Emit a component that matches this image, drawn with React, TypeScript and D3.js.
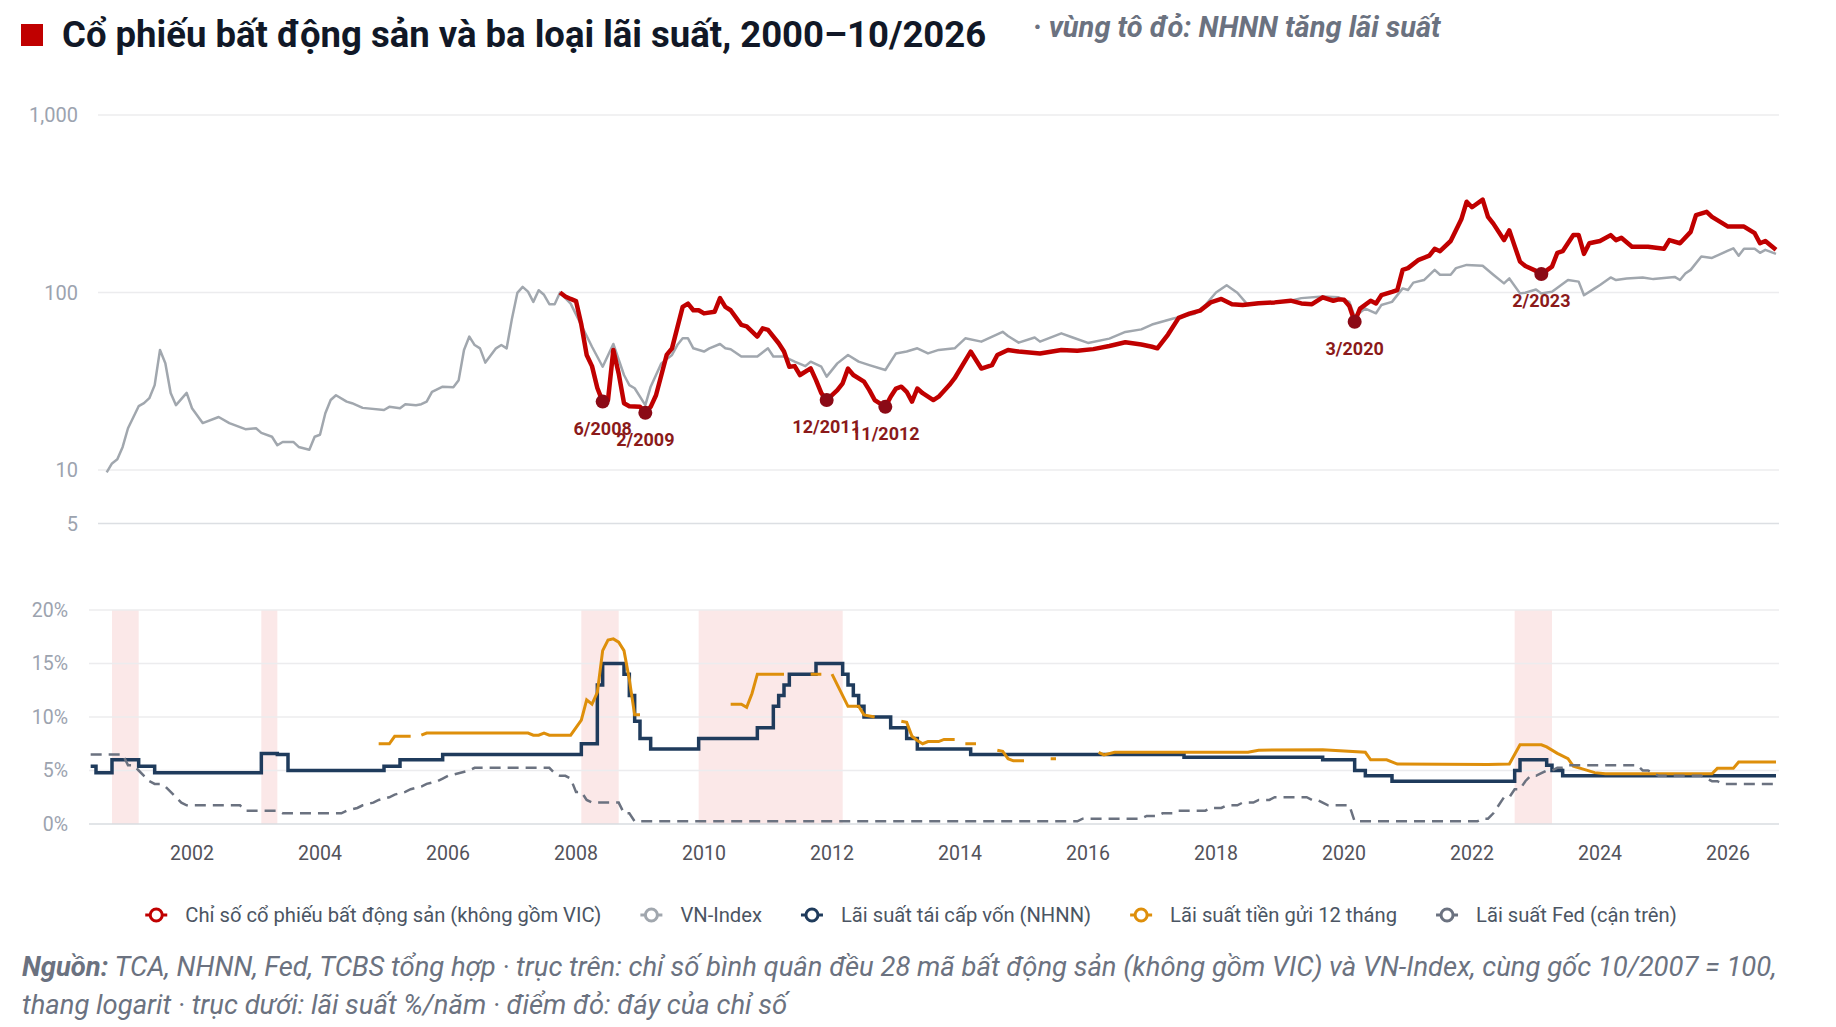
import React, { useRef, useEffect } from 'react'
import * as d3 from 'd3'

type Pt = [string, number | null]

// trục
const yearTicks = [2002, 2004, 2006, 2008, 2010, 2012, 2014, 2016, 2018, 2020, 2022, 2024, 2026]
const topTicks = [5, 10, 100, 1000]
const bottomTicks = [0, 5, 10, 15, 20]

// Chỉ số cổ phiếu BĐS (không gồm VIC), gốc 10/2007 = 100
const reStocks: Pt[] = [
	['2007-10', 100], ['2007-11', 95], ['2007-12', 92], ['2008-01', 89.5], ['2008-02', 66], ['2008-03', 44.5],
	['2008-04', 38.5], ['2008-05', 29], ['2008-06', 24.3], ['2008-07', 24.8], ['2008-08', 47.5], ['2008-09', 35],
	['2008-10', 23.8], ['2008-11', 22.9], ['2009-01', 22.7], ['2009-02', 21], ['2009-03', 22.7], ['2009-04', 26.4],
	['2009-06', 44.5], ['2009-07', 48.5], ['2009-09', 83], ['2009-10', 86.6], ['2009-11', 79.5], ['2009-12', 79.5],
	['2010-01', 76.3], ['2010-03', 78], ['2010-04', 93], ['2010-05', 83], ['2010-06', 79.5], ['2010-08', 65.7],
	['2010-09', 64.5], ['2010-11', 56.5], ['2010-12', 62.8], ['2011-01', 61.6], ['2011-03', 51.8], ['2011-04', 46.5],
	['2011-05', 38.2], ['2011-06', 38.5], ['2011-07', 34.3], ['2011-09', 37.4], ['2011-10', 32.1], ['2011-11', 27.1],
	['2011-12', 24.8], ['2012-02', 28.2], ['2012-03', 30.8], ['2012-04', 37.3], ['2012-05', 34.3], ['2012-07', 31.5],
	['2012-08', 28.2], ['2012-09', 24.8], ['2012-11', 22.7], ['2012-12', 25.9], ['2013-01', 28.8], ['2013-02', 29.5],
	['2013-03', 27.6], ['2013-04', 24.3], ['2013-05', 28.8], ['2013-06', 27.1], ['2013-08', 24.8], ['2013-09', 25.9],
	['2013-11', 30.1], ['2013-12', 32.9], ['2014-03', 46.5], ['2014-05', 37.3], ['2014-07', 39], ['2014-08', 44.5],
	['2014-10', 47.5], ['2014-12', 46.5], ['2015-04', 45.4], ['2015-08', 47.5], ['2015-11', 47], ['2016-02', 48],
	['2016-05', 50], ['2016-08', 52.5], ['2016-11', 51], ['2017-01', 49.5], ['2017-02', 48.5], ['2017-04', 58],
	['2017-06', 72], ['2017-08', 76], ['2017-10', 79], ['2017-12', 88], ['2018-02', 92], ['2018-04', 86],
	['2018-06', 85], ['2018-09', 87], ['2018-12', 88], ['2019-03', 90], ['2019-05', 86.8], ['2019-07', 86],
	['2019-09', 94], ['2019-11', 89.9], ['2019-12', 91.5], ['2020-01', 91], ['2020-02', 84], ['2020-03', 68.5],
	['2020-04', 81.2], ['2020-06', 89.9], ['2020-07', 86.8], ['2020-08', 96.6], ['2020-10', 100.9], ['2020-11', 103.3],
	['2020-12', 134.2], ['2021-01', 137.2], ['2021-03', 152.9], ['2021-05', 161.2], ['2021-06', 176.3], ['2021-07', 170.9],
	['2021-09', 195.1], ['2021-11', 258.5], ['2021-12', 324.7], ['2022-01', 302.4], ['2022-03', 333.5], ['2022-04', 267],
	['2022-05', 244.5], ['2022-07', 197.4], ['2022-08', 224], ['2022-09', 182.6], ['2022-10', 149.3], ['2022-11', 141],
	['2023-01', 132.5], ['2023-02', 127], ['2023-04', 140], ['2023-05', 167.3], ['2023-06', 170.9], ['2023-08', 210.6],
	['2023-09', 210.6], ['2023-10', 165.2], ['2023-11', 189.5], ['2024-01', 195.1], ['2024-03', 210.6], ['2024-04', 197.4],
	['2024-05', 203.3], ['2024-07', 181], ['2024-10', 181], ['2025-01', 176.3], ['2025-02', 197.4], ['2025-04', 189.5],
	['2025-06', 219.5], ['2025-07', 272.9], ['2025-09', 284.8], ['2025-10', 267], ['2026-01', 235.3], ['2026-04', 235.3],
	['2026-06', 215.9], ['2026-07', 189.5], ['2026-08', 195.1], ['2026-10', 174],
]

// VN-Index, cùng gốc 10/2007 = 100
const vnIndex: Pt[] = [
	['2000-09', 9.7], ['2000-10', 10.9], ['2000-11', 11.5], ['2000-12', 13.5], ['2001-01', 17.2], ['2001-03', 22.9],
	['2001-04', 23.8], ['2001-05', 25.4], ['2001-06', 30.1], ['2001-07', 47.5], ['2001-08', 40], ['2001-09', 27.2],
	['2001-10', 23.2], ['2001-12', 27.2], ['2002-01', 22.3], ['2002-03', 18.4], ['2002-06', 19.9], ['2002-08', 18.4],
	['2002-11', 17], ['2003-01', 17.2], ['2003-02', 16.2], ['2003-04', 15.4], ['2003-05', 13.8], ['2003-06', 14.4],
	['2003-08', 14.4], ['2003-09', 13.5], ['2003-11', 13], ['2003-12', 15.4], ['2004-01', 15.8], ['2004-02', 20.9],
	['2004-03', 24.8], ['2004-04', 26.4], ['2004-06', 24.3], ['2004-07', 23.8], ['2004-09', 22.4], ['2005-01', 21.8],
	['2005-02', 22.7], ['2005-04', 22.3], ['2005-05', 23.5], ['2005-07', 23.2], ['2005-08', 23.5], ['2005-09', 24.3],
	['2005-10', 27.6], ['2005-12', 29.5], ['2006-02', 29.3], ['2006-03', 32.1], ['2006-04', 47.5], ['2006-05', 56.5],
	['2006-06', 50.6], ['2006-07', 48.5], ['2006-08', 40.3], ['2006-10', 48.5], ['2006-11', 50.6], ['2006-12', 48.5],
	['2007-01', 71.5], ['2007-02', 99.5], ['2007-03', 107.6], ['2007-04', 101.2], ['2007-05', 88.6], ['2007-06', 103],
	['2007-07', 97.1], ['2007-08', 86], ['2007-09', 86], ['2007-10', 100], ['2007-12', 86.6], ['2008-04', 49.5],
	['2008-06', 38.2], ['2008-08', 51.3], ['2008-10', 34.3], ['2008-11', 30.1], ['2008-12', 28.9], ['2009-02', 23.2],
	['2009-03', 29.5], ['2009-05', 39.9], ['2009-07', 44.5], ['2009-08', 50.6], ['2009-09', 55.2], ['2009-10', 55.2],
	['2009-11', 48.5], ['2010-01', 46.5], ['2010-02', 48.5], ['2010-04', 51.3], ['2010-05', 48.5], ['2010-06', 47.9],
	['2010-08', 43.6], ['2010-11', 43.6], ['2011-01', 48.5], ['2011-02', 43.6], ['2011-04', 43.6], ['2011-06', 40.8],
	['2011-08', 38.5], ['2011-09', 40.8], ['2011-11', 38.2], ['2011-12', 33.6], ['2012-02', 39.9], ['2012-04', 44.5],
	['2012-06', 40.8], ['2012-08', 39], ['2012-11', 36.6], ['2013-01', 45.4], ['2013-03', 46.5], ['2013-05', 48.5],
	['2013-07', 45.4], ['2013-09', 47.5], ['2013-12', 48.5], ['2014-02', 55.2], ['2014-05', 52.9], ['2014-09', 60.1],
	['2014-10', 56.9], ['2014-12', 52.2], ['2015-03', 55.8], ['2015-04', 52.9], ['2015-08', 58.9], ['2015-10', 56],
	['2016-01', 52], ['2016-05', 55], ['2016-08', 60], ['2016-11', 62], ['2017-01', 66], ['2017-05', 71.4],
	['2017-09', 75.8], ['2017-11', 85], ['2018-01', 100], ['2018-03', 110], ['2018-05', 99.7], ['2018-07', 85],
	['2018-09', 88], ['2018-12', 88], ['2019-03', 90], ['2019-05', 93], ['2019-09', 94.9], ['2019-12', 94],
	['2020-02', 88.6], ['2020-03', 73.2], ['2020-05', 81.2], ['2020-07', 76.4], ['2020-08', 85], ['2020-10', 88.6],
	['2020-12', 105.5], ['2021-01', 103.3], ['2021-02', 113.7], ['2021-04', 117.6], ['2021-06', 134.2], ['2021-07', 125.9],
	['2021-09', 125.9], ['2021-10', 137.2], ['2021-12', 143.1], ['2022-03', 141.4], ['2022-05', 125.9], ['2022-07', 112.6],
	['2022-08', 120.1], ['2022-10', 98.9], ['2022-11', 99.8], ['2023-01', 104.1], ['2023-02', 98.9], ['2023-04', 101],
	['2023-07', 117.6], ['2023-09', 115.2], ['2023-10', 96.6], ['2023-12', 105.5], ['2024-01', 110.2], ['2024-03', 121.6],
	['2024-04', 117.6], ['2024-06', 120.1], ['2024-09', 121.6], ['2024-11', 119], ['2025-03', 122.4], ['2025-04', 117.6],
	['2025-05', 127.9], ['2025-06', 134.2], ['2025-08', 159.6], ['2025-10', 156.6], ['2026-01', 172.3], ['2026-02', 177.5],
	['2026-03', 161.2], ['2026-04', 176.3], ['2026-06', 176.3], ['2026-07', 167.3], ['2026-08', 174], ['2026-10', 165.2],
]

// Lãi suất tái cấp vốn NHNN (%/năm), các mốc thay đổi
const refinanceRate: Pt[] = [
	['2000-06', 5.4], ['2000-07', 4.8], ['2000-10', 6], ['2001-03', 5.4], ['2001-06', 4.8], ['2003-02', 6.6],
	['2003-05', 6.5], ['2003-07', 5], ['2005-01', 5.4], ['2005-04', 6], ['2005-12', 6.5], ['2008-02', 7.5],
	['2008-05', 13], ['2008-06', 15], ['2008-10', 14], ['2008-11', 12], ['2008-12', 9.6], ['2009-01', 8],
	['2009-03', 7], ['2009-12', 8], ['2010-11', 9], ['2011-02', 11], ['2011-03', 12], ['2011-04', 13],
	['2011-05', 14], ['2011-10', 15], ['2012-03', 14], ['2012-04', 13], ['2012-05', 12], ['2012-06', 11],
	['2012-07', 10], ['2012-12', 9], ['2013-03', 8], ['2013-05', 7], ['2014-03', 6.5], ['2017-07', 6.25],
	['2019-09', 6], ['2020-03', 5], ['2020-05', 4.5], ['2020-10', 4], ['2022-09', 5], ['2022-10', 6],
	['2023-03', 5.5], ['2023-04', 5], ['2023-06', 4.5], ['2026-10', 4.5],
]

// Lãi suất tiền gửi 12 tháng (%/năm), null = thiếu số liệu
const deposit12m: Pt[] = [
	['2004-12', 7.5], ['2005-02', 7.5], ['2005-03', 8.2], ['2005-06', 8.2], ['2005-07', null],
	['2005-08', 8.3], ['2005-09', 8.5], ['2007-04', 8.5], ['2007-05', 8.3], ['2007-06', 8.3], ['2007-07', 8.5],
	['2007-08', 8.3], ['2007-12', 8.3], ['2008-02', 9.7], ['2008-03', 11.6], ['2008-04', 11.2], ['2008-05', 12.3],
	['2008-06', 16.2], ['2008-07', 17.2], ['2008-08', 17.3], ['2008-09', 17], ['2008-10', 16.2], ['2008-11', 13.5],
	['2008-12', 10.2], ['2009-01', 10.2], ['2009-02', null],
	['2010-06', 11.2], ['2010-08', 11.2], ['2010-09', 10.9], ['2010-10', 12.2], ['2010-11', 14], ['2011-04', 14], ['2011-05', null],
	['2011-09', 14], ['2011-11', 14], ['2011-12', null],
	['2012-01', 14], ['2012-02', 13], ['2012-04', 11], ['2012-06', 11], ['2012-07', 10.2], ['2012-09', 10], ['2012-10', null],
	['2013-02', 9.6], ['2013-03', 9.5], ['2013-04', 8.2], ['2013-05', 7.8], ['2013-06', 7.5], ['2013-07', 7.7],
	['2013-09', 7.7], ['2013-10', 7.9], ['2013-12', 7.9], ['2014-01', null],
	['2014-02', 7.5], ['2014-04', 7.5], ['2014-05', null],
	['2014-08', 6.9], ['2014-09', 6.8], ['2014-10', 6.1], ['2014-11', 5.9], ['2015-01', 5.9], ['2015-02', null],
	['2015-06', 6.1], ['2015-07', 6.1], ['2015-08', null],
	['2016-03', 6.7], ['2016-04', 6.45], ['2016-06', 6.7], ['2018-07', 6.7], ['2018-09', 6.9], ['2019-09', 6.95],
	['2020-05', 6.7], ['2020-06', 6], ['2020-09', 6], ['2020-11', 5.6], ['2022-04', 5.55], ['2022-08', 5.6],
	['2022-10', 7.4], ['2023-02', 7.4], ['2023-03', 7.2], ['2023-05', 6.6], ['2023-07', 6.1], ['2023-08', 5.4],
	['2023-10', 5.1], ['2023-12', 4.8], ['2024-02', 4.7], ['2025-10', 4.7], ['2025-11', 5.2], ['2026-02', 5.2],
	['2026-03', 5.8], ['2026-10', 5.8],
]

// Lãi suất Fed (cận trên)
const fedUpper: Pt[] = [
	['2000-06', 6.5], ['2000-12', 6.5], ['2001-01', 5.5], ['2001-02', 5.5], ['2001-03', 5], ['2001-04', 4.5],
	['2001-05', 4], ['2001-06', 3.75], ['2001-07', 3.75], ['2001-08', 3.5], ['2001-09', 3], ['2001-10', 2.5],
	['2001-11', 2], ['2001-12', 1.75], ['2002-10', 1.75], ['2002-11', 1.25], ['2003-05', 1.25], ['2003-06', 1],
	['2004-05', 1], ['2004-06', 1.25], ['2004-08', 1.5], ['2004-09', 1.75], ['2004-11', 2], ['2004-12', 2.25],
	['2005-02', 2.5], ['2005-03', 2.75], ['2005-05', 3], ['2005-06', 3.25], ['2005-08', 3.5], ['2005-09', 3.75],
	['2005-11', 4], ['2005-12', 4.25], ['2006-01', 4.5], ['2006-03', 4.75], ['2006-05', 5], ['2006-06', 5.25],
	['2007-08', 5.25], ['2007-09', 4.75], ['2007-10', 4.5], ['2007-11', 4.5], ['2007-12', 4.25], ['2008-01', 3],
	['2008-02', 3], ['2008-03', 2.25], ['2008-04', 2], ['2008-09', 2], ['2008-10', 1], ['2008-11', 1],
	['2008-12', 0.25], ['2015-11', 0.25], ['2015-12', 0.5], ['2016-11', 0.5], ['2016-12', 0.75], ['2017-02', 0.75],
	['2017-03', 1], ['2017-05', 1], ['2017-06', 1.25], ['2017-11', 1.25], ['2017-12', 1.5], ['2018-02', 1.5],
	['2018-03', 1.75], ['2018-05', 1.75], ['2018-06', 2], ['2018-08', 2], ['2018-09', 2.25], ['2018-11', 2.25],
	['2018-12', 2.5], ['2019-06', 2.5], ['2019-07', 2.25], ['2019-08', 2.25], ['2019-09', 2], ['2019-10', 1.75],
	['2020-02', 1.75], ['2020-03', 0.25], ['2022-02', 0.25], ['2022-03', 0.5], ['2022-04', 0.5], ['2022-05', 1],
	['2022-06', 1.75], ['2022-07', 2.5], ['2022-08', 2.5], ['2022-09', 3.25], ['2022-10', 3.25], ['2022-11', 4],
	['2022-12', 4.5], ['2023-01', 4.5], ['2023-02', 4.75], ['2023-03', 5], ['2023-04', 5], ['2023-05', 5.25],
	['2023-06', 5.25], ['2023-07', 5.5], ['2024-08', 5.5], ['2024-09', 5], ['2024-10', 5], ['2024-11', 4.75],
	['2024-12', 4.5], ['2025-08', 4.5], ['2025-09', 4.25], ['2025-10', 4], ['2025-11', 4], ['2025-12', 3.75],
	['2026-10', 3.75],
]

// các giai đoạn NHNN tăng lãi suất
const hikeBands: [string, string][] = [
	['2000-10', '2001-03'], ['2003-02', '2003-05'], ['2008-02', '2008-09'], ['2009-12', '2012-03'], ['2022-09', '2023-04'],
]

// đáy của chỉ số
const troughs: [string, string][] = [
	['2008-06', '6/2008'], ['2009-02', '2/2009'], ['2011-12', '12/2011'],
	['2012-11', '11/2012'], ['2020-03', '3/2020'], ['2023-02', '2/2023'],
]

const legendItems: [string, string][] = [
	['Chỉ số cổ phiếu bất động sản (không gồm VIC)', '#c00000'],
	['VN-Index', '#a1a7ae'],
	['Lãi suất tái cấp vốn (NHNN)', '#1f3b5c'],
	['Lãi suất tiền gửi 12 tháng', '#de8f0b'],
	['Lãi suất Fed (cận trên)', '#6b7280'],
]

const toYear = (s: string) => {
	const [y, m] = s.split('-').map(Number)
	return y + (m - 1) / 12
}

const FONT = 'Roboto, "Noto Sans", sans-serif'

const App = () => {
	const svgRef = useRef<SVGSVGElement>(null)

	useEffect(() => {
		const svg = d3.select(svgRef.current)
		svg.selectAll('*').remove()

		const width = 1836
		const height = 1027
		svg.attr('width', width).attr('height', height).attr('font-family', FONT)

		const x = d3.scaleLinear().domain([2000, 2026]).range([64, 1728])
		const yTop = d3.scaleLog().domain([5, 1000]).range([523.5, 115])
		const yBot = d3.scaleLinear().domain([0, 20]).range([824, 610])
		const plotRight = 1779

		// tiêu đề
		svg.append('rect').attr('x', 21).attr('y', 24).attr('width', 22).attr('height', 22).attr('fill', '#c00000')
		svg.append('text').attr('x', 62).attr('y', 47).attr('font-size', 36.5).attr('font-weight', 700)
			.attr('fill', '#111827').text('Cổ phiếu bất động sản và ba loại lãi suất, 2000–10/2026')
		svg.append('text').attr('x', 1033).attr('y', 37).attr('font-size', 29).attr('font-weight', 700)
			.attr('font-style', 'italic').attr('fill', '#6b7280').text('· vùng tô đỏ: NHNN tăng lãi suất')

		// lưới trên
		const gTop = svg.append('g')
		gTop.selectAll('line').data(topTicks).enter().append('line')
			.attr('x1', 98).attr('x2', plotRight)
			.attr('y1', d => yTop(d)).attr('y2', d => yTop(d))
			.attr('stroke', d => (d === 5 ? '#dcdfe3' : '#ececee')).attr('stroke-width', 1.5)
		gTop.selectAll('text').data(topTicks).enter().append('text')
			.attr('x', 78).attr('y', d => yTop(d)).attr('dy', '0.35em').attr('text-anchor', 'end')
			.attr('font-size', 20).attr('fill', '#9ca3af').text(d => d3.format(',')(d))

		// vùng tô đỏ
		svg.append('g').selectAll('rect').data(hikeBands).enter().append('rect')
			.attr('x', d => x(toYear(d[0]))).attr('width', d => x(toYear(d[1])) - x(toYear(d[0])))
			.attr('y', yBot(20)).attr('height', yBot(0) - yBot(20)).attr('fill', '#fbe8e8')

		// lưới dưới
		const gBot = svg.append('g')
		gBot.selectAll('line').data(bottomTicks).enter().append('line')
			.attr('x1', 89).attr('x2', plotRight)
			.attr('y1', d => yBot(d)).attr('y2', d => yBot(d))
			.attr('stroke', d => (d === 0 ? '#d9dce1' : '#ececee')).attr('stroke-width', 1.5)
		gBot.selectAll('text').data(bottomTicks).enter().append('text')
			.attr('x', 68).attr('y', d => yBot(d)).attr('dy', '0.35em').attr('text-anchor', 'end')
			.attr('font-size', 19.5).attr('fill', '#9ca3af').text(d => `${d}%`)

		// trục năm
		svg.append('g').selectAll('text').data(yearTicks).enter().append('text')
			.attr('x', d => x(d)).attr('y', 860).attr('text-anchor', 'middle')
			.attr('font-size', 19.5).attr('fill', '#52525b').text(d => d)

		// đường lãi suất
		const rateLine = d3.line<Pt>()
			.defined(d => d[1] != null)
			.x(d => x(toYear(d[0])))
			.y(d => yBot(d[1] as number))

		svg.append('path').datum(refinanceRate)
			.attr('d', rateLine.curve(d3.curveStepAfter))
			.attr('fill', 'none').attr('stroke', '#1f3b5c').attr('stroke-width', 3.5)
		svg.append('path').datum(deposit12m)
			.attr('d', rateLine.curve(d3.curveLinear))
			.attr('fill', 'none').attr('stroke', '#de8f0b').attr('stroke-width', 3)
		svg.append('path').datum(fedUpper)
			.attr('d', rateLine.curve(d3.curveLinear))
			.attr('fill', 'none').attr('stroke', '#6b7280').attr('stroke-width', 2.5)
			.attr('stroke-dasharray', '11 7')

		// đường chỉ số
		const idxLine = d3.line<Pt>()
			.x(d => x(toYear(d[0])))
			.y(d => yTop(d[1] as number))
		svg.append('path').datum(vnIndex).attr('d', idxLine)
			.attr('fill', 'none').attr('stroke', '#a1a7ae').attr('stroke-width', 2.5).attr('stroke-linejoin', 'round')
		svg.append('path').datum(reStocks).attr('d', idxLine)
			.attr('fill', 'none').attr('stroke', '#c00000').attr('stroke-width', 4.5).attr('stroke-linejoin', 'round')

		// đáy
		const lookup = new Map(reStocks.map(d => [d[0], d[1] as number]))
		const gDots = svg.append('g')
		troughs.forEach(([date, label]) => {
			const cx = x(toYear(date))
			const cy = yTop(lookup.get(date) as number)
			gDots.append('circle').attr('cx', cx).attr('cy', cy).attr('r', 7).attr('fill', '#8b0a16')
			gDots.append('text').attr('x', cx).attr('y', cy + 33).attr('text-anchor', 'middle')
				.attr('font-size', 18).attr('font-weight', 700).attr('fill', '#8b1a1a').text(label)
		})

		// chú thích
		const gLeg = svg.append('g')
		let cursor = 0
		legendItems.forEach(([name, color]) => {
			const item = gLeg.append('g').attr('transform', `translate(${cursor},0)`)
			item.append('line').attr('x1', -11).attr('x2', 11).attr('stroke', color).attr('stroke-width', 3)
			item.append('circle').attr('r', 6).attr('fill', '#fff').attr('stroke', color).attr('stroke-width', 3)
			const t = item.append('text').attr('x', 29).attr('dy', '0.35em').attr('font-size', 20.2)
				.attr('fill', '#4b5563').text(name)
			const w = (t.node() as SVGTextElement).getComputedTextLength()
			cursor += 29 + w + 50
		})
		const total = cursor - 50 + 11
		gLeg.attr('transform', `translate(${911 - total / 2 + 11},915)`)

		// nguồn
		const foot = svg.append('g').attr('font-size', 27.4).attr('font-style', 'italic').attr('fill', '#6b7280')
		const l1 = foot.append('text').attr('x', 22).attr('y', 975.5)
		l1.append('tspan').attr('font-weight', 700).text('Nguồn:')
		l1.append('tspan').text(' TCA, NHNN, Fed, TCBS tổng hợp · trục trên: chỉ số bình quân đều 28 mã bất động sản (không gồm VIC) và VN-Index, cùng gốc 10/2007 = 100,')
		foot.append('text').attr('x', 22).attr('y', 1013.5)
			.text('thang logarit · trục dưới: lãi suất %/năm · điểm đỏ: đáy của chỉ số')
	}, [])

	return <svg ref={svgRef} style={{ position: 'absolute', left: 0, top: 0, display: 'block' }}></svg>
}

export default App
